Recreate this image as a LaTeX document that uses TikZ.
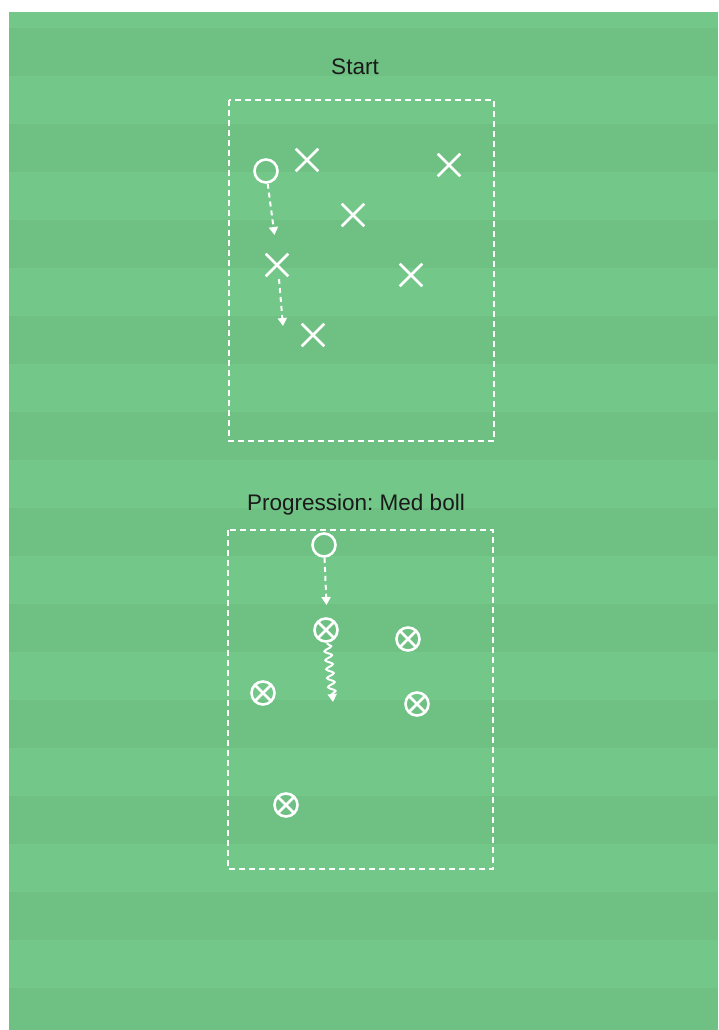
\documentclass[tikz,border=0pt]{standalone}
\usepackage{fontspec}
\setmainfont{Liberation Sans}
\usetikzlibrary{arrows.meta,shapes.misc,decorations.pathmorphing}
\definecolor{lightg}{HTML}{73C788}
\definecolor{darkg}{HTML}{6EC182}
\definecolor{txt}{HTML}{1A1A1A}
\tikzset{
  playerx/.style={cross out,draw=white,line width=2.6pt,minimum size=20pt,inner sep=0pt},
  playero/.style={circle,draw=white,line width=2.6pt,minimum size=23pt,inner sep=0pt},
  playerball/.style={circle,draw=white,line width=2.6pt,minimum size=23pt,inner sep=0pt,
    path picture={\draw[white,line width=2.6pt]
      ([shift={(-8.5pt,-8.5pt)}]path picture bounding box.center) -- ([shift={(8.5pt,8.5pt)}]path picture bounding box.center)
      ([shift={(-8.5pt,8.5pt)}]path picture bounding box.center) -- ([shift={(8.5pt,-8.5pt)}]path picture bounding box.center);}},
  zone/.style={white,line width=2pt,dash pattern=on 6pt off 4pt},
  run/.style={white,line width=2pt,dash pattern=on 5pt off 4pt,-{Triangle[width=9pt,length=8pt]}},
  dribble/.style={white,line width=2pt,-{Triangle[width=9pt,length=8pt]},decorate,
    decoration={snake,amplitude=3.6pt,segment length=9pt,pre length=1pt,post length=6pt}},
  title/.style={text=txt,font=\fontsize{22.5pt}{27pt}\selectfont\frenchspacing,anchor=base,inner sep=0pt}
}
\begin{document}
\begin{tikzpicture}[x=1pt,y=-1pt]
\useasboundingbox (0,0) rectangle (718,1030);
\fill[white] (0,0) rectangle (718,1030);
\fill[lightg] (9,12) rectangle (718,1030);
\foreach \k in {0,...,10}{
  \fill[darkg] (9,{28+96*\k}) rectangle (718,{min(76+96*\k,1030)});
}
% top drill
\node[title] (t1) at (355,75) {Start};
\draw[zone] (229,100) rectangle (494,441);
\node[playero] (o1) at (266,171) {};
\node[playerx] (x1) at (307,160) {};
\node[playerx] (x2) at (449,165) {};
\node[playerx] (x3) at (353,215) {};
\node[playerx] (x4) at (277,265) {};
\node[playerx] (x5) at (411,275) {};
\node[playerx] (x6) at (313,335) {};
\coordinate (a1) at (274.5,235);
\coordinate (a2s) at (279,279);
\coordinate (a2) at (283,326);
\draw[run] (o1) -- (a1);
\draw[run] (a2s) -- (a2);
% bottom drill
\node[title] (t2) at (356,510) {Progression: Med boll};
\draw[zone] (228,530) rectangle (493,869);
\node[playero] (o2) at (324,545) {};
\node[playerball] (b1) at (326,630) {};
\node[playerball] (b2) at (408,639) {};
\node[playerball] (b3) at (263,693) {};
\node[playerball] (b4) at (417,704) {};
\node[playerball] (b5) at (286,805) {};
\coordinate (a3) at (326.5,605);
\coordinate (a4) at (333,702);
\draw[run] (o2) -- (a3);
\draw[dribble] (b1) -- (a4);
\end{tikzpicture}
\end{document}
